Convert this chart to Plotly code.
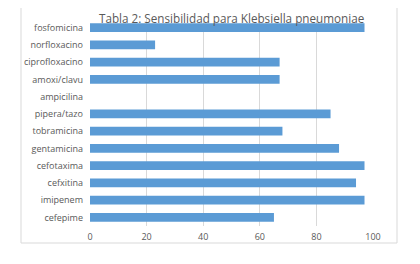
import plotly.graph_objects as go

categories = ["fosfomicina", "norfloxacino", "ciprofloxacino", "amoxi/clavu", "ampicilina",
              "pipera/tazo", "tobramicina", "gentamicina", "cefotaxima", "cefxitina",
              "imipenem", "cefepime"]
values = [97, 23, 67, 67, 0, 85, 68, 88, 97, 94, 97, 65]
x_ticks = [0, 20, 40, 60, 80, 100]
title = "Tabla 2: Sensibilidad para Klebsiella pneumoniae"

FONT = "Open Sans"
GREY = "#595959"

fig = go.Figure(go.Bar(
    x=values, y=categories, orientation="h",
    marker=dict(color="#5B9BD5", line=dict(width=0)),
    width=0.5,
))

# page body has an 8px margin: work in figure pixels = reference pixels - 8
OFF = 8
W, H = 420, 264
L = 90 - OFF
T = 19 - OFF
R = W - (373 - OFF)
B = H - (226 - OFF)
pw, ph = W - L - R, H - T - B

def px_x(p):
    return (p - OFF - L) / pw

def px_y(p):
    return (H - B - (p - OFF)) / ph

fig.update_layout(
    width=W, height=H,
    margin=dict(l=L, r=R, t=T, b=B, autoexpand=False),
    paper_bgcolor="white", plot_bgcolor="white",
    showlegend=False,
    font=dict(family=FONT, color=GREY, size=9),
    xaxis=dict(range=[0, 100], tickvals=x_ticks, showgrid=True, gridcolor="#D9D9D9",
               gridwidth=1, zeroline=False, showline=False, automargin=False,
               tickfont=dict(size=9, color=GREY), ticks="", ticklabelstandoff=4),
    yaxis=dict(categoryorder="array", categoryarray=categories[::-1], showgrid=False,
               zeroline=False, showline=False, automargin=False, tickfont=dict(size=9, color=GREY),
               ticks="", ticklabelstandoff=6),
    shapes=[dict(type="rect", xref="paper", yref="paper",
                 x0=px_x(21), x1=px_x(397), y0=px_y(243), y1=px_y(4),
                 line=dict(color="#D9D9D9", width=1), fillcolor="rgba(0,0,0,0)", layer="below")],
    annotations=[dict(text=title, xref="paper", yref="paper", x=px_x(231), y=px_y(18),
                      xanchor="center", yanchor="middle", showarrow=False,
                      font=dict(size=11.7, color=GREY, family=FONT))],
)

fig.write_html("out.html")
